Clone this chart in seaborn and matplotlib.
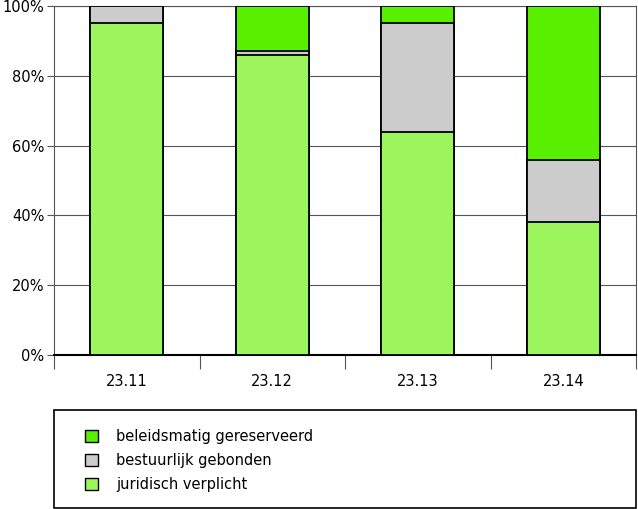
import matplotlib
matplotlib.use("Agg")
import matplotlib.pyplot as plt
import seaborn as sns
import pandas as pd
import numpy as np
from matplotlib.patches import Rectangle, Patch

categories = ["23.11", "23.12", "23.13", "23.14"]
juridisch = [95, 86, 64, 38]
bestuurlijk = [5, 1, 31, 18]
beleid = [0, 13, 5, 44]

labels = ["beleidsmatig gereserveerd", "bestuurlijk gebonden", "juridisch verplicht"]
colors = {"jur": "#9CF55C", "best": "#CCCCCC", "bel": "#58EF00"}

sns.set_theme(style="white")
plt.rcParams["font.family"] = ["DejaVu Sans"]
plt.rcParams["text.color"] = "black"
plt.rcParams["xtick.color"] = "black"
plt.rcParams["ytick.color"] = "black"

fig = plt.figure(figsize=(6.38, 5.09), dpi=100)
ax = fig.add_axes([54/638, 1-355/509, 582/638, 349/509])

cum1 = np.array(juridisch)
cum2 = cum1 + np.array(bestuurlijk)
cum3 = cum2 + np.array(beleid)
df = pd.DataFrame({"cat": categories, "jur": cum1, "best": cum2, "bel": cum3})

for col in ["bel", "best", "jur"]:
    sns.barplot(data=df, x="cat", y=col, color=colors[col], width=0.5,
                edgecolor="black", linewidth=1.3, saturation=1, ax=ax, zorder=3)

ax.set_ylim(0, 100)
ax.set_xlim(-0.5, 3.5)
ax.set_yticks([0, 20, 40, 60, 80, 100])
ax.set_yticklabels([f"{v}%" for v in [0, 20, 40, 60, 80, 100]], fontsize=10.5, color="black")
ax.yaxis.grid(True, color="#555555", linewidth=0.8, zorder=0)
ax.set_axisbelow(True)
ax.set_xlabel("")
ax.set_ylabel("")
ax.set_xticks(range(4))
ax.set_xticklabels(categories, fontsize=10.5, color="black")
ax.tick_params(axis="x", which="major", length=0, pad=14)
ax.set_xticks([-0.5, 0.5, 1.5, 2.5, 3.5], minor=True)
ax.tick_params(axis="x", which="minor", length=10, width=0.8, color="#555555", direction="out", bottom=True)
ax.tick_params(axis="y", length=5, width=0.8, color="#555555", direction="out", left=True, pad=2)
for s in ["top", "right", "left"]:
    ax.spines[s].set_color("#555555")
    ax.spines[s].set_linewidth(0.8)
ax.spines["bottom"].set_color("black")
ax.spines["bottom"].set_linewidth(1.5)

# legend frame
fig.patches.append(Rectangle((54/638, 1-508/509), 582/638, 98/509, transform=fig.transFigure,
                             fill=False, edgecolor="black", linewidth=1.2))
handles = [Patch(facecolor=colors["bel"], edgecolor="black"),
           Patch(facecolor=colors["best"], edgecolor="black"),
           Patch(facecolor=colors["jur"], edgecolor="black")]
leg = fig.legend(handles, labels, loc="upper left", bbox_to_anchor=(72/638, 1-416/509),
                 frameon=False, fontsize=10.5, handlelength=0.9, handleheight=0.9,
                 handletextpad=1.2, labelspacing=0.6)
for t in leg.get_texts():
    t.set_color("black")

fig.savefig("out.png", dpi=100)
